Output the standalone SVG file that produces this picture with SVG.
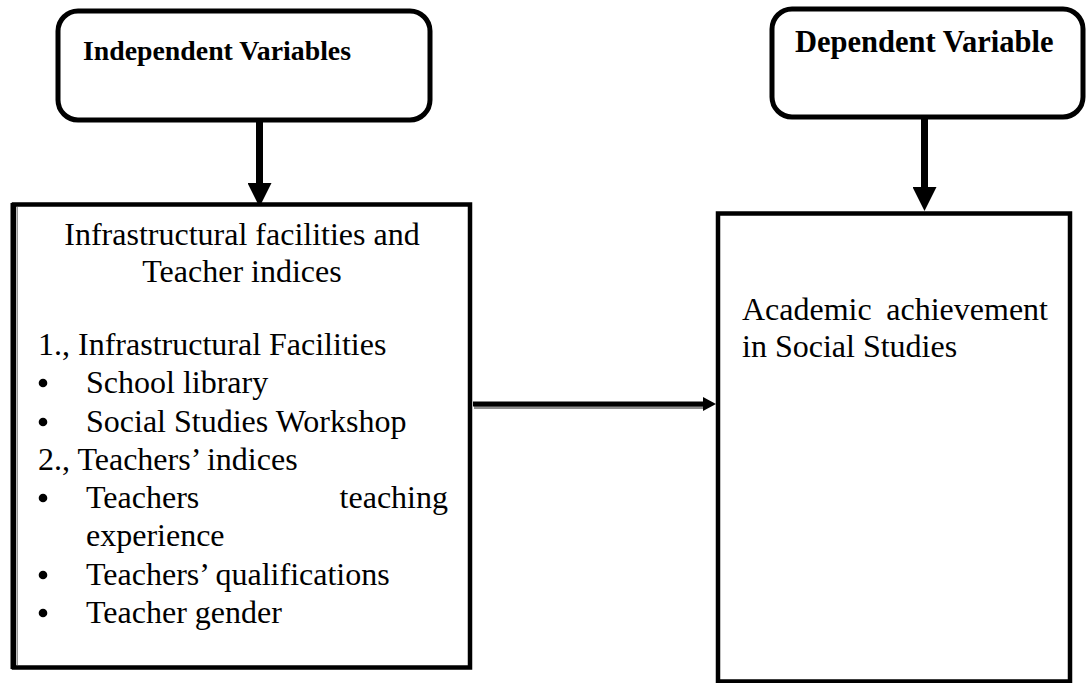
<svg xmlns="http://www.w3.org/2000/svg" width="1086" height="683" viewBox="0 0 1086 683">
<style>
.box{fill:#fff;stroke:#000}
.hdr{font-weight:bold;fill:#000}
.body{font-size:32px;fill:#000}
.shaft{stroke:#000;fill:none}
.shadow{stroke:#8c8c8c;fill:none}
</style>
<defs>
<marker id="headDown" markerUnits="userSpaceOnUse" viewBox="0 0 24 24" refX="0" refY="12" markerWidth="24" markerHeight="24" orient="auto">
<path d="M0,0 L24,12 L0,24 z" fill="#000"/>
</marker>
<marker id="headRight" markerUnits="userSpaceOnUse" viewBox="0 0 13 14" refX="0" refY="7" markerWidth="13" markerHeight="14" orient="auto">
<path d="M0,0 L13,7 L0,14 z" fill="#000"/>
</marker>
</defs>
<rect width="1086" height="683" fill="#fff"/>

<g id="connectors">
<line class="shaft" x1="259.5" y1="122" x2="259.5" y2="183" stroke-width="7" marker-end="url(#headDown)"/>
<line class="shaft" x1="924.5" y1="119" x2="924.5" y2="187" stroke-width="7" marker-end="url(#headDown)"/>
<line class="shadow" x1="474" y1="407.5" x2="704" y2="407.5" stroke-width="3"/>
<line class="shaft" x1="473" y1="404" x2="703" y2="404" stroke-width="5" marker-end="url(#headRight)"/>
</g>

<g font-family="Liberation Serif, Times New Roman, DejaVu Serif, serif">
<g id="independent">
<rect class="box" x="58" y="11" width="372" height="109" rx="20" ry="20" stroke-width="5"/>
<text class="hdr" x="83" y="60" font-size="27.8">Independent Variables</text>
</g>

<g id="dependent">
<rect class="box" x="772" y="9" width="311" height="108" rx="20" ry="20" stroke-width="5"/>
<text class="hdr" x="795" y="52" font-size="30.5">Dependent Variable</text>
</g>

<g id="facilities">
<rect class="box" x="14" y="204.5" width="456" height="463" stroke-width="4.5"/>
<line x1="13" y1="203" x2="13" y2="669" stroke="#000" stroke-width="5"/>
<line x1="17.5" y1="207" x2="17.5" y2="665" stroke="#999" stroke-width="1"/>
<text class="body" x="242" y="245" text-anchor="middle">Infrastructural facilities and</text>
<text class="body" x="242" y="282" text-anchor="middle">Teacher indices</text>
<text class="body" x="38" y="355">1., Infrastructural Facilities</text>
<circle cx="43" cy="383" r="4.3"/>
<text class="body" x="86" y="393">School library</text>
<circle cx="43" cy="422" r="4.3"/>
<text class="body" x="86" y="432">Social Studies Workshop</text>
<text class="body" x="38" y="470">2., Teachers’ indices</text>
<circle cx="43" cy="498" r="4.3"/>
<text class="body" x="86" y="508">Teachers</text>
<text class="body" x="448" y="508" text-anchor="end">teaching</text>
<text class="body" x="86" y="546">experience</text>
<circle cx="43" cy="575" r="4.3"/>
<text class="body" x="86" y="585">Teachers’ qualifications</text>
<circle cx="43" cy="613" r="4.3"/>
<text class="body" x="86" y="623">Teacher gender</text>
</g>

<g id="achievement">
<rect class="box" x="718" y="213.5" width="352" height="468" stroke-width="4.5"/>
<text class="body" x="742" y="320">Academic</text>
<text class="body" x="1048" y="320" text-anchor="end">achievement</text>
<text class="body" x="742" y="357">in Social Studies</text>
</g>
</g>
</svg>
